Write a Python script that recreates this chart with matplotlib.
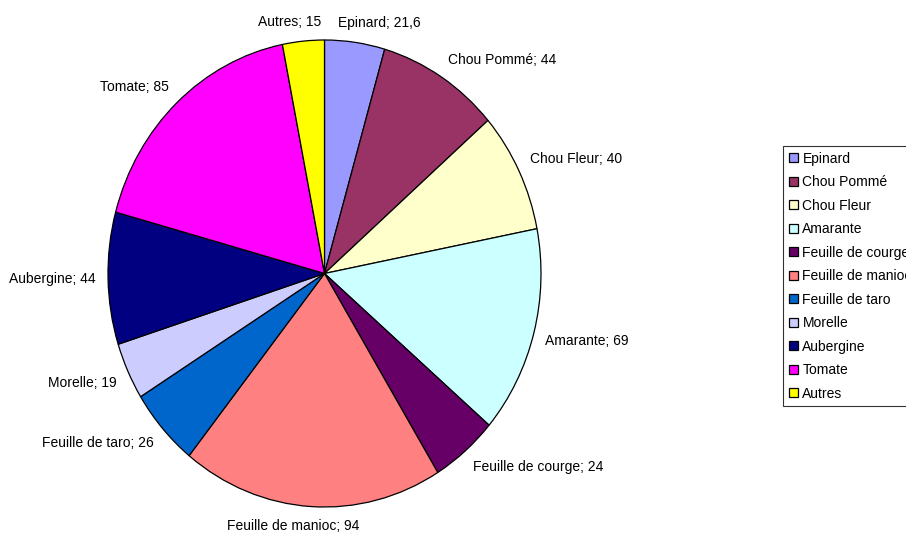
import numpy as np
import matplotlib.pyplot as plt

plt.rcParams['font.family'] = ['Liberation Sans', 'DejaVu Sans']

# Data
categories = ['Epinard', 'Chou Pommé', 'Chou Fleur', 'Amarante', 'Feuille de courge',
              'Feuille de manioc', 'Feuille de taro', 'Morelle', 'Aubergine', 'Tomate', 'Autres']
values = [21.6, 44, 40, 69, 24, 94, 26, 19, 44, 85, 15]
colors = ['#9999FF', '#993366', '#FFFFCC', '#CCFFFF', '#660066',
          '#FF8080', '#0066CC', '#CCCCFF', '#000080', '#FF00FF', '#FFFF00']


def fmt(v):
    # virgule decimale
    return ('%g' % v).replace('.', ',')


labels = [f'{c}; {fmt(v)}' for c, v in zip(categories, values)]

fig = plt.figure(figsize=(9.06, 5.36), dpi=100)
# pie is slightly stretched vertically, like the original
ax = fig.add_axes([108 / 906, 29 / 536, 433 / 906, 467 / 536])

wedges, _ = ax.pie(values, colors=colors, startangle=90, counterclock=False,
                   wedgeprops=dict(edgecolor='black', linewidth=0.9))
ax.set_xlim(-1, 1)
ax.set_ylim(-1, 1)
ax.set_aspect('auto')

# Place labels outside, Excel style
renderer = fig.canvas.get_renderer()
gap = 12
for w, lab in zip(wedges, labels):
    th = np.deg2rad((w.theta1 + w.theta2) / 2)
    qx, qy = ax.transData.transform((np.cos(th), np.sin(th)))
    t = fig.text(0, 0, lab, fontsize=10, ha='center', va='center',
                 transform=None)
    bb = t.get_window_extent(renderer)
    sx = np.clip(4 * np.cos(th), -1, 1)
    sy = np.clip(3 * np.sin(th), -1, 1)
    cx = qx + gap * np.cos(th) + bb.width / 2 * sx
    cy = qy + gap * np.sin(th) + bb.height / 2 * sy
    t.set_position((cx, cy))

# legend runs past the right edge, as in the original
leg = fig.legend(wedges, categories, loc='upper left',
                 bbox_to_anchor=(783 / 906, 1 - 146 / 536),
                 fontsize=10, frameon=True, fancybox=False, shadow=False,
                 handlelength=0.65, handleheight=0.65, handletextpad=0.35,
                 labelspacing=0.685, borderpad=0.4, borderaxespad=0)
leg.get_frame().set_edgecolor('black')
leg.get_frame().set_linewidth(0.8)

fig.savefig('out.png', dpi=100)
